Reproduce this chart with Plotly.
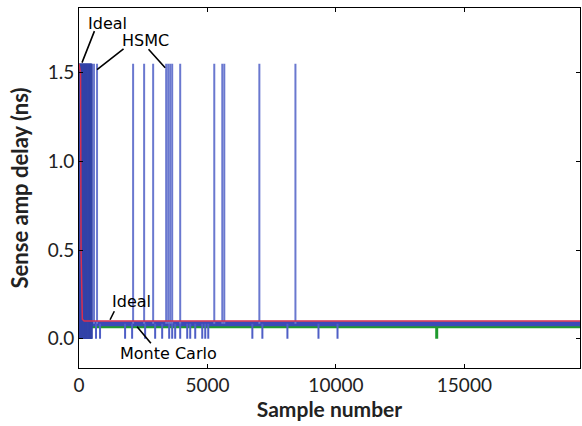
import plotly.graph_objects as go

# ---- data ----
x_max = 19500
hsmc_base = 0.085          # typical HSMC delay (ns)
hsmc_high = 1.55           # failing-sample delay (ns)
hsmc_low = 0.0             # fast-sample delay (ns)
ideal_level = 0.10
mc_base = 0.068
mc_low = 0.0

# dense burst of samples at the start of the HSMC run
hsmc_dense_x = [0, 15, 30, 45, 60, 75, 90, 105, 120, 135, 150, 165, 180, 195, 210,
                225, 240, 255, 270, 285, 300, 315, 330, 345, 360, 375, 390, 405,
                420, 435, 450, 465, 480, 495]
# isolated high HSMC samples
hsmc_up_x = [585, 702, 2106, 2535, 2886, 3393, 3471, 3549, 3627, 3939,
             5265, 5577, 5655, 7020, 8424]
# isolated low HSMC samples
hsmc_down_x = [663, 819, 1794, 2067, 2574, 2964, 3237, 3510, 3627, 3744, 3939,
               4212, 4329, 4524, 4797, 4914, 5031, 6747, 7137, 8112, 9321, 10062]
# Monte Carlo low sample
mc_down_x = [13923]
# ideal running estimate
ideal_x = [0, 60, 80, 100, 130, 200, x_max]
ideal_y = [1.55, 1.5, 0.5, 0.16, 0.11, 0.10, 0.10]

x_ticks = [0, 5000, 10000, 15000]
y_ticks = [0.0, 0.5, 1.0, 1.5]


def spikes(xs, base, tip):
    xx, yy = [], []
    for v in xs:
        xx += [v, v, None]
        yy += [base, tip, None]
    return xx, yy


fig = go.Figure()

# Monte Carlo
mx, my = spikes(mc_down_x, mc_base, mc_low)
fig.add_trace(go.Scatter(x=[0, x_max] + [None] + mx, y=[mc_base, mc_base] + [None] + my,
                         mode="lines", line=dict(color="#1f9a2e", width=3),
                         hoverinfo="skip", showlegend=False))
# HSMC baseline band
fig.add_trace(go.Scatter(x=[0, x_max], y=[hsmc_base, hsmc_base], mode="lines",
                         line=dict(color="#3a4bb8", width=5), showlegend=False))
# HSMC low spikes
dx, dy = spikes(hsmc_down_x, hsmc_base, hsmc_low)
fig.add_trace(go.Scatter(x=dx, y=dy, mode="lines",
                         line=dict(color="#4f5fc6", width=2), showlegend=False))
# HSMC high spikes
ux, uy = spikes(hsmc_up_x, hsmc_base, hsmc_high)
fig.add_trace(go.Scatter(x=ux, y=uy, mode="lines",
                         line=dict(color="#6a78cf", width=2), showlegend=False))
# dense burst
bx, by = spikes(hsmc_dense_x, hsmc_low, hsmc_high)
fig.add_trace(go.Scatter(x=bx, y=by, mode="lines",
                         line=dict(color="#3343a8", width=2), showlegend=False))
# Ideal
fig.add_trace(go.Scatter(x=ideal_x, y=ideal_y, mode="lines",
                         line=dict(color="#d8304f", width=1.5), showlegend=False))

ann_font = dict(family="DejaVu Sans", size=16, color="black")
line_ann = dict(showarrow=True, arrowhead=0, arrowwidth=1.6, arrowcolor="black",
                text="", xref="x", yref="y", axref="pixel", ayref="pixel")
annotations = [
    dict(x=1092, y=1.777, text="Ideal", showarrow=False, font=ann_font),
    dict(x=117, y=1.557, ax=13, ay=-33, **line_ann),
    dict(x=2574, y=1.681, text="HSMC", showarrow=False, font=ann_font),
    dict(x=702, y=1.517, ax=28, ay=-22, **line_ann),
    dict(x=3354, y=1.528, ax=-18, ay=-20, **line_ann),
    dict(x=2028, y=0.209, text="Ideal", showarrow=False, font=ann_font),
    dict(x=1209, y=0.107, ax=5, ay=-10, **line_ann),
    dict(x=3471, y=-0.085, text="Monte Carlo", showarrow=False, font=ann_font),
    dict(x=2262, y=0.068, ax=15, ay=18, **line_ann),
]

fig.update_layout(
    width=582, height=426,
    margin=dict(l=79, r=2, t=8, b=58),
    paper_bgcolor="white", plot_bgcolor="white",
    annotations=annotations,
    font=dict(family="Lato", size=19, color="#222"),
)
fig.update_xaxes(range=[0, x_max], tickvals=x_ticks, ticktext=[str(v) for v in x_ticks],
                 ticks="inside", ticklen=4, tickcolor="black", showline=True,
                 linecolor="black", linewidth=1, mirror="ticks", showgrid=False,
                 zeroline=False, tickfont=dict(size=19), automargin=False,
                 title=dict(text="<b>Sample number</b>", font=dict(size=21), standoff=6))
fig.update_yaxes(range=[-0.165, 1.865], tickvals=y_ticks,
                 ticktext=[f"{v:.1f}" for v in y_ticks],
                 ticks="inside", ticklen=4, tickcolor="black", showline=True,
                 linecolor="black", linewidth=1, mirror="ticks", showgrid=False,
                 zeroline=False, tickfont=dict(size=19), automargin=False,
                 title=dict(text="<b>Sense amp delay (ns)</b>", font=dict(size=22), standoff=12))

fig.write_html("out.html", config={"displayModeBar": False},
               post_script="document.body.style.margin='0';document.body.style.overflow='hidden';")
